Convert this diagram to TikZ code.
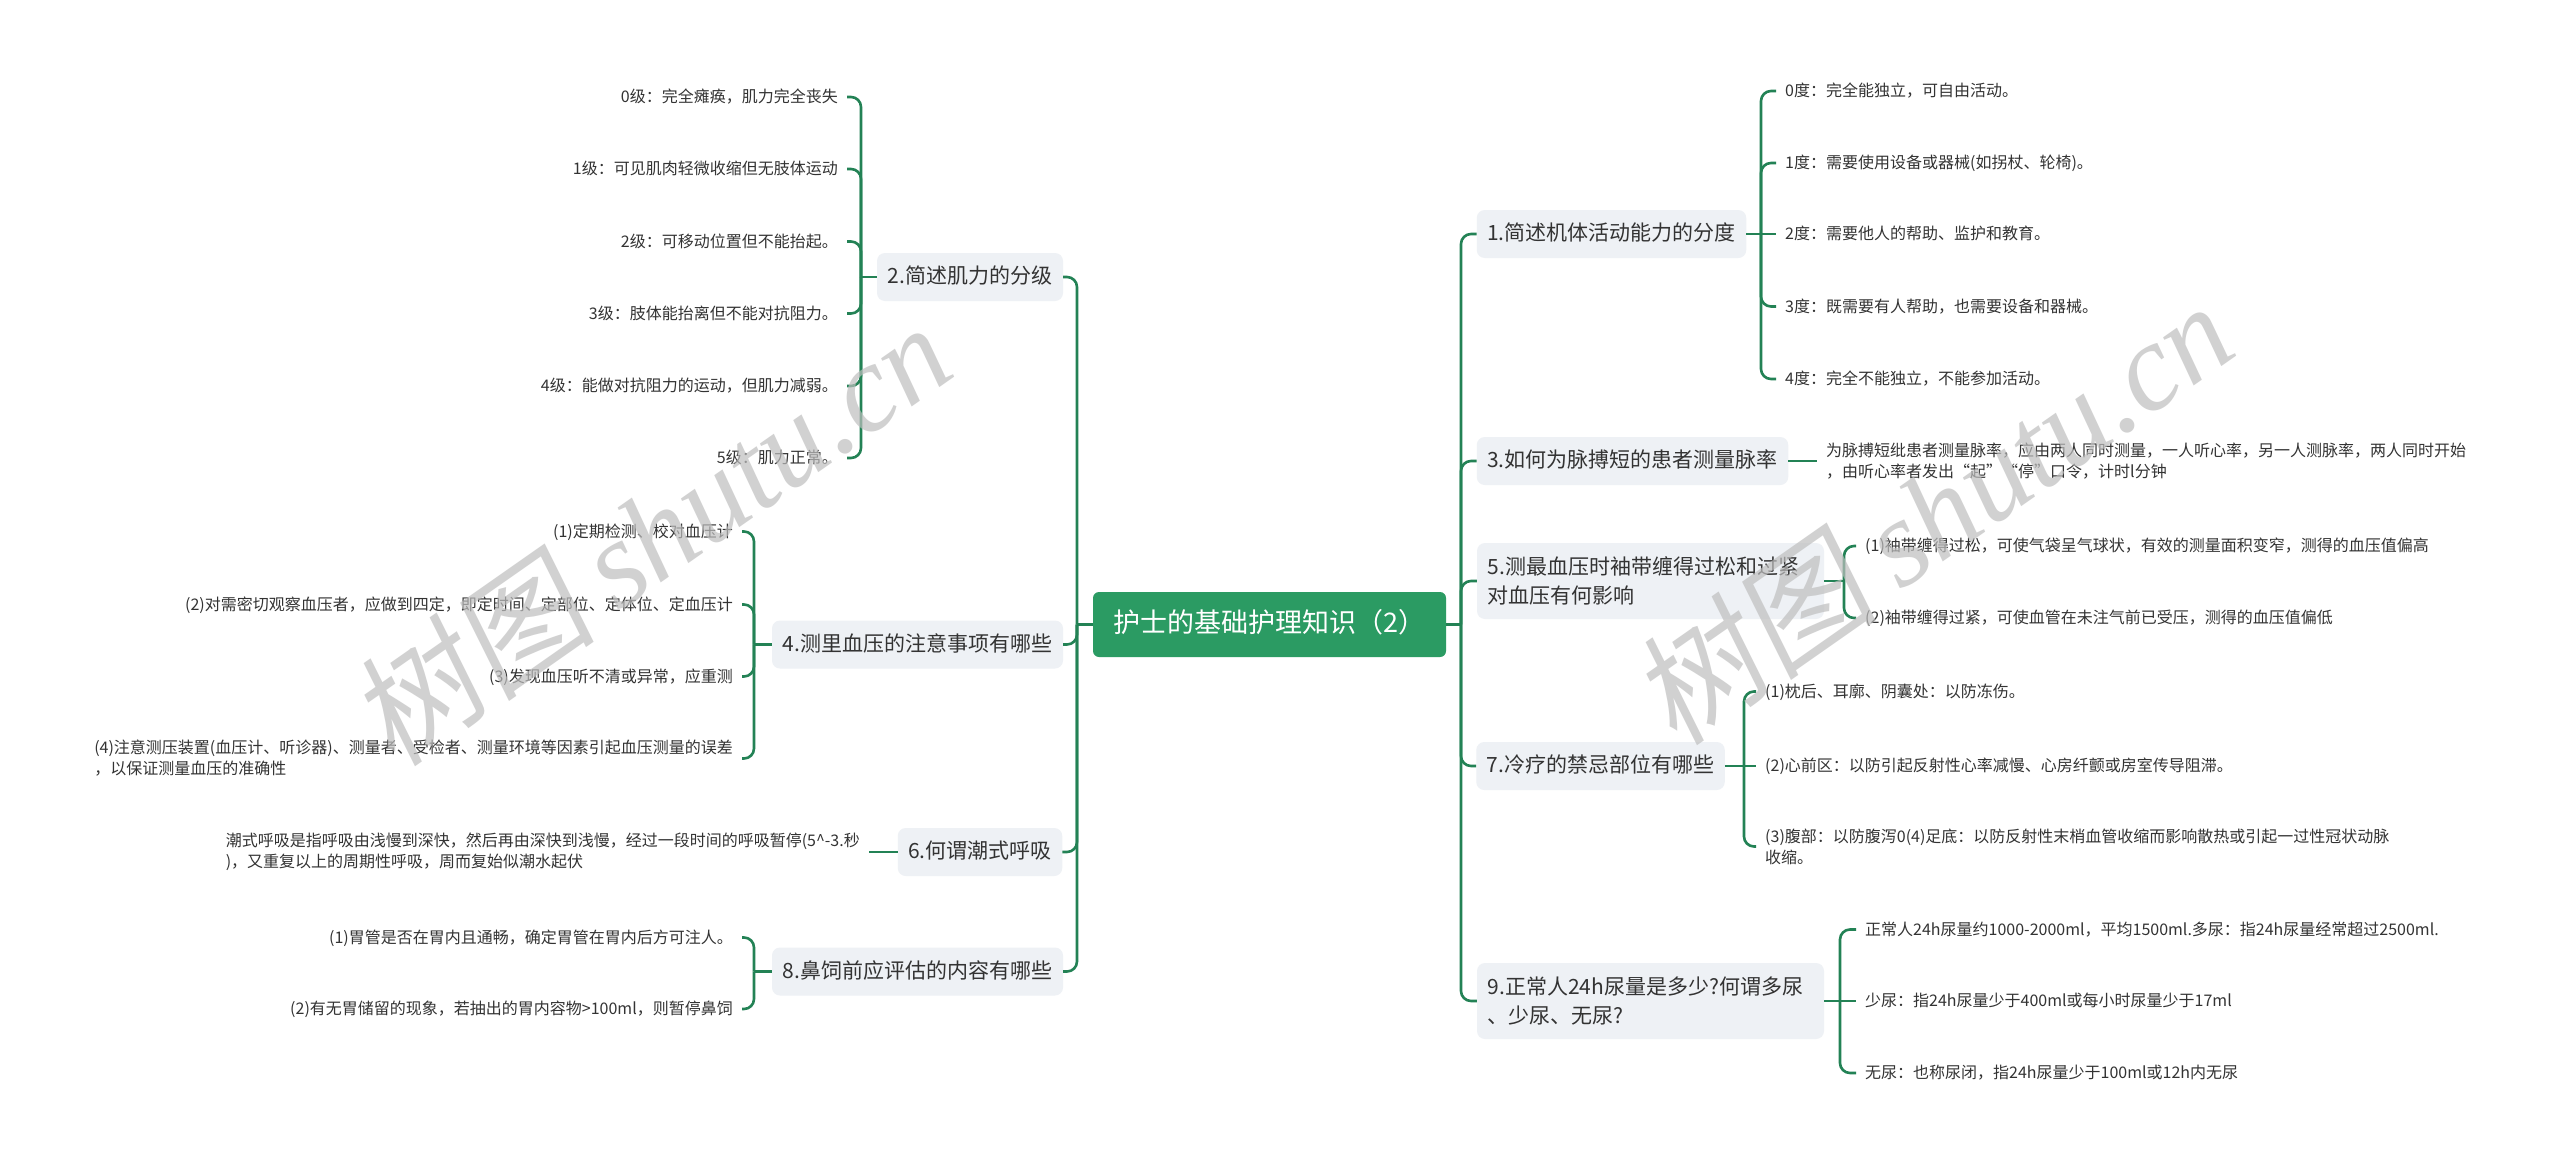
\documentclass[tikz,border=0pt]{standalone}
\usepackage{fontspec}
\setmainfont{Noto Sans CJK SC}
\newfontfamily\wmcjk[FakeSlant=0.15]{Noto Sans CJK SC}
\newfontfamily\wmlat{Liberation Serif}
\definecolor{rootc}{RGB}{43,155,99}
\definecolor{linec}{RGB}{35,130,85}
\definecolor{topicbg}{RGB}{238,241,245}
\definecolor{textc}{RGB}{51,51,51}
\definecolor{wmc}{RGB}{190,190,190}
\begin{document}
\begin{tikzpicture}[x=1pt,y=-1pt,
  link/.style={draw=linec, line width=2.6pt, rounded corners=10pt},
  topicbase/.style={fill=topicbg, rounded corners=8pt, inner xsep=10.5pt, inner ysep=0pt, minimum height=48pt, text=textc, font=\fontsize{21}{28.5}\selectfont},
  topic/.style={topicbase, text height=17pt, text depth=4pt},
  topictwo/.style={topicbase, minimum width=347pt, minimum height=76pt, text width=326pt, align=left},
  leafbase/.style={inner xsep=9pt, inner ysep=2pt, text=textc, font=\fontsize{16}{21}\selectfont},
  leafL/.style={leafbase, text height=14pt, text depth=3pt, anchor=east},
  leafR/.style={leafbase, text height=14pt, text depth=3pt, anchor=west},
  leafLm/.style={leafbase, align=left, anchor=east},
  leafRm/.style={leafbase, align=left, anchor=west},
  wm/.style={rotate=35, text=wmc, opacity=0.7, inner sep=0pt, font=\fontsize{124}{124}\selectfont}
]
\useasboundingbox (0,0) rectangle (2560,1162);
\fill[white] (0,0) rectangle (2560,1162);

% root
\node[fill=rootc, rounded corners=6pt, minimum width=353pt, minimum height=65pt, inner sep=0pt, text=white, font=\fontsize{27}{30}\selectfont, text height=21pt, text depth=5pt] (root) at (1269.5,624.5) {护士的基础护理知识（2）};

% left topics
\node[topic, minimum width=186pt] (n2) at (970,277) {2.简述肌力的分级};
\node[topic, minimum width=291pt] (n4) at (917.5,644.5) {4.测里血压的注意事项有哪些};
\node[topic, minimum width=164pt] (n6) at (980,852) {6.何谓潮式呼吸};
\node[topic, minimum width=291pt] (n8) at (917.5,971.5) {8.鼻饲前应评估的内容有哪些};

% right topics
\node[topic, minimum width=269pt] (n1) at (1611.5,234) {1.简述机体活动能力的分度};
\node[topic, minimum width=311pt] (n3) at (1632.5,461) {3.如何为脉搏短的患者测量脉率};
\node[topictwo] (n5) at (1650.5,581) {5.测最血压时袖带缠得过松和过紧\\对血压有何影响};
\node[topic, minimum width=247pt] (n7) at (1600.5,766) {7.冷疗的禁忌部位有哪些};
\node[topictwo] (n9) at (1650.5,1001) {9.正常人24h尿量是多少?何谓多尿\\、少尿、无尿?};

% trunks
\coordinate (tl) at (1077,624.5);
\coordinate (tr) at (1461,624.5);
\draw[link] (root.west) -- (tl);
\draw[link] (root.east) -- (tr);
\foreach \t in {n2,n4,n6,n8} \draw[link] (tl) |- (\t.east);
\foreach \t in {n1,n3,n5,n7,n9} \draw[link] (tr) |- (\t.west);

% N2 children
\node[leafL] (k2a) at (847,97) {0级：完全瘫痪，肌力完全丧失};
\node[leafL] (k2b) at (847,169) {1级：可见肌肉轻微收缩但无肢体运动};
\node[leafL] (k2c) at (847,241.5) {2级：可移动位置但不能抬起。};
\node[leafL] (k2d) at (847,313.5) {3级：肢体能抬离但不能对抗阻力。};
\node[leafL] (k2e) at (847,386) {4级：能做对抗阻力的运动，但肌力减弱。};
\node[leafL] (k2f) at (847,458) {5级：肌力正常。};
\coordinate (b2) at (861,277);
\draw[link] (n2.west) -- (b2);
\foreach \k in {k2a,k2b,k2c,k2d,k2e,k2f} \draw[link] (b2) |- (\k.east);

% N4 children
\node[leafL] (k4a) at (742,531.5) {(1)定期检测、校对血压计};
\node[leafL] (k4b) at (742,604.5) {(2)对需密切观察血压者，应做到四定，即定时间、定部位、定体位、定血压计};
\node[leafL] (k4c) at (742,676.5) {(3)发现血压听不清或异常，应重测};
\node[leafLm] (k4d) at (742,758.5) {(4)注意测压装置(血压计、听诊器)、测量者、受检者、测量环境等因素引起血压测量的误差\\，以保证测量血压的准确性};
\coordinate (b4) at (754,644.5);
\draw[link] (n4.west) -- (b4);
\foreach \k in {k4a,k4b,k4c,k4d} \draw[link] (b4) |- (\k.east);

% N6 child
\node[leafLm] (k6) at (869,852) {潮式呼吸是指呼吸由浅慢到深快，然后再由深快到浅慢，经过一段时间的呼吸暂停(5\^{}-3.秒\\)，又重复以上的周期性呼吸，周而复始似潮水起伏};
\draw[link] (n6.west) -- (k6.east);

% N8 children
\node[leafL] (k8a) at (742,937.5) {(1)胃管是否在胃内且通畅，确定胃管在胃内后方可注人。};
\node[leafL] (k8b) at (742,1009) {(2)有无胃储留的现象，若抽出的胃内容物>100ml，则暂停鼻饲};
\coordinate (b8) at (754,971.5);
\draw[link] (n8.west) -- (b8);
\foreach \k in {k8a,k8b} \draw[link] (b8) |- (\k.east);

% N1 children
\node[leafR] (k1a) at (1776,91) {0度：完全能独立，可自由活动。};
\node[leafR] (k1b) at (1776,163) {1度：需要使用设备或器械(如拐杖、轮椅)。};
\node[leafR] (k1c) at (1776,234) {2度：需要他人的帮助、监护和教育。};
\node[leafR] (k1d) at (1776,306.5) {3度：既需要有人帮助，也需要设备和器械。};
\node[leafR] (k1e) at (1776,379) {4度：完全不能独立，不能参加活动。};
\coordinate (b1) at (1761,234);
\draw[link] (n1.east) -- (k1c.west);
\foreach \k in {k1a,k1b,k1d,k1e} \draw[link] (b1) |- (\k.west);

% N3 child
\node[leafRm] (k3) at (1817,461) {为脉搏短纰患者测量脉率，应由两人同时测量，一人听心率，另一人测脉率，两人同时开始\\，由听心率者发出“起”“停”口令，计时l分钟};
\draw[link] (n3.east) -- (k3.west);

% N5 children
\node[leafR] (k5a) at (1856,546) {(1)袖带缠得过松，可使气袋呈气球状，有效的测量面积变窄，测得的血压值偏高};
\node[leafR] (k5b) at (1856,618) {(2)袖带缠得过紧，可使血管在未注气前已受压，测得的血压值偏低};
\coordinate (b5) at (1844,581);
\draw[link] (n5.east) -- (b5);
\foreach \k in {k5a,k5b} \draw[link] (b5) |- (\k.west);

% N7 children
\node[leafR] (k7a) at (1756,691.5) {(1)枕后、耳廓、阴囊处：以防冻伤。};
\node[leafR] (k7b) at (1756,766) {(2)心前区：以防引起反射性心率减慢、心房纤颤或房室传导阻滞。};
\node[leafRm] (k7c) at (1756,846.5) {(3)腹部：以防腹泻0(4)足底：以防反射性末梢血管收缩而影响散热或引起一过性冠状动脉\\收缩。};
\coordinate (b7) at (1744,766);
\draw[link] (n7.east) -- (k7b.west);
\foreach \k in {k7a,k7c} \draw[link] (b7) |- (\k.west);

% N9 children
\node[leafR] (k9a) at (1856,929.5) {正常人24h尿量约1000-2000ml，平均1500ml.多尿：指24h尿量经常超过2500ml.};
\node[leafR] (k9b) at (1856,1001) {少尿：指24h尿量少于400ml或每小时尿量少于17ml};
\node[leafR] (k9c) at (1856,1073) {无尿：也称尿闭，指24h尿量少于100ml或12h内无尿};
\coordinate (b9) at (1840,1001);
\draw[link] (n9.east) -- (k9b.west);
\foreach \k in {k9a,k9c} \draw[link] (b9) |- (\k.west);

% watermarks
\node[wm] (wm1) at (650,533) {{\wmcjk 树图}\hspace{0.2em}{\wmlat\itshape shutu.cn}};
\node[wm] (wm2) at (1932,512) {{\wmcjk 树图}\hspace{0.2em}{\wmlat\itshape shutu.cn}};
\end{tikzpicture}
\end{document}
